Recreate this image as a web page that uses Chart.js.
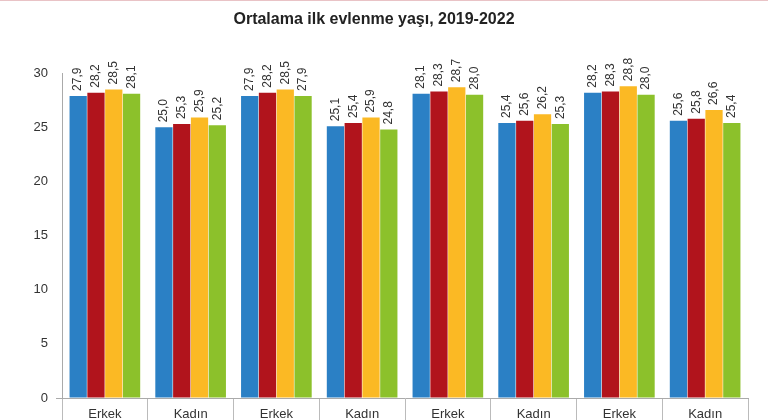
<!DOCTYPE html>
<html>
<head>
<meta charset="utf-8">
<script src="https://cdn.jsdelivr.net/npm/chart.js@4.4.0/dist/chart.umd.min.js"></script>
<style>
  html, body { margin: 0; padding: 0; background: #fff; }
  body { border-top: 1px solid #e9c3c6; box-sizing: border-box; width: 768px; height: 420px; }
  #wrap { width: 768px; height: 419px; }
</style>
</head>
<body>
<div id="wrap"><canvas id="evlenmeChart"></canvas></div>
<script>
// Kategoriler (Erkek / Kadın dönüşümlü)
const kategoriler = ['Erkek', 'Kadın', 'Erkek', 'Kadın', 'Erkek', 'Kadın', 'Erkek', 'Kadın'];

// Seri değerleri
const seriMavi   = [27.9, 25.0, 27.9, 25.1, 28.1, 25.4, 28.2, 25.6];
const seriKirmizi = [28.2, 25.3, 28.2, 25.4, 28.3, 25.6, 28.3, 25.8];
const seriSari   = [28.5, 25.9, 28.5, 25.9, 28.7, 26.2, 28.8, 26.6];
const seriYesil  = [28.1, 25.2, 27.9, 24.8, 28.0, 25.3, 28.0, 25.4];

const seriAdlari = ['Seri 1', 'Seri 2', 'Seri 3', 'Seri 4'];
const yTikleri = [0, 5, 10, 15, 20, 25, 30];

const renkler = ['#2b80c5', '#b1141c', '#fbb924', '#8cc12b'];

// Çubukların üstüne dikey değer etiketleri
const degerEtiketleri = {
    id: 'degerEtiketleri',
    afterDatasetsDraw(chart) {
        const ctx = chart.ctx;
        ctx.save();
        ctx.font = '12px "Liberation Sans", Arial, sans-serif';
        ctx.fillStyle = '#333';
        ctx.textAlign = 'left';
        ctx.textBaseline = 'middle';
        chart.data.datasets.forEach((ds, i) => {
            chart.getDatasetMeta(i).data.forEach((bar, j) => {
                const metin = ds.data[j].toFixed(1).replace('.', ',');
                ctx.save();
                ctx.translate(bar.x, bar.y - 5);
                ctx.rotate(-Math.PI / 2);
                ctx.fillText(metin, 0, 0);
                ctx.restore();
            });
        });
        ctx.restore();
    }
};

const chart = new Chart(document.getElementById('evlenmeChart'), {
    type: 'bar',
    data: {
        labels: kategoriler,
        datasets: [seriMavi, seriKirmizi, seriSari, seriYesil].map((d, i) => ({
            label: seriAdlari[i],
            data: d,
            backgroundColor: renkler[i],
            borderWidth: 0,
            categoryPercentage: 0.83,
            barPercentage: 0.97
        }))
    },
    options: {
        responsive: true,
        maintainAspectRatio: false,
        animation: false,
        layout: { padding: { left: 0, right: 20, top: 0, bottom: 0 } },
        plugins: {
            legend: { display: false },
            tooltip: { enabled: false },
            title: {
                display: true,
                text: 'Ortalama ilk evlenme yaşı, 2019-2022',
                color: '#222',
                font: { family: '"Liberation Sans", Arial, sans-serif', size: 16, weight: 'bold' },
                padding: { top: 9, bottom: 44 }
            }
        },
        scales: {
            x: {
                grid: {
                    offset: true,
                    drawOnChartArea: false,
                    tickLength: 26,
                    color: '#bbb'
                },
                border: { color: '#aaa' },
                ticks: {
                    color: '#333',
                    font: { family: '"Liberation Sans", Arial, sans-serif', size: 13 },
                    padding: -17
                },
                afterFit(scale) { scale.height = 22; }
            },
            y: {
                min: 0,
                max: 30,
                afterBuildTicks(scale) {
                    scale.ticks = yTikleri.map(v => ({ value: v }));
                },
                grid: {
                    drawOnChartArea: false,
                    tickLength: 6,
                    color: (c) => (c.tick && c.tick.value === 0 ? '#aaa' : 'rgba(0,0,0,0)')
                },
                border: { color: '#aaa' },
                ticks: {
                    color: '#333',
                    font: { family: '"Liberation Sans", Arial, sans-serif', size: 13 },
                    padding: 8
                },
                afterFit(scale) { scale.width = 62; }
            }
        }
    },
    plugins: [degerEtiketleri]
});
</script>
</body>
</html>
